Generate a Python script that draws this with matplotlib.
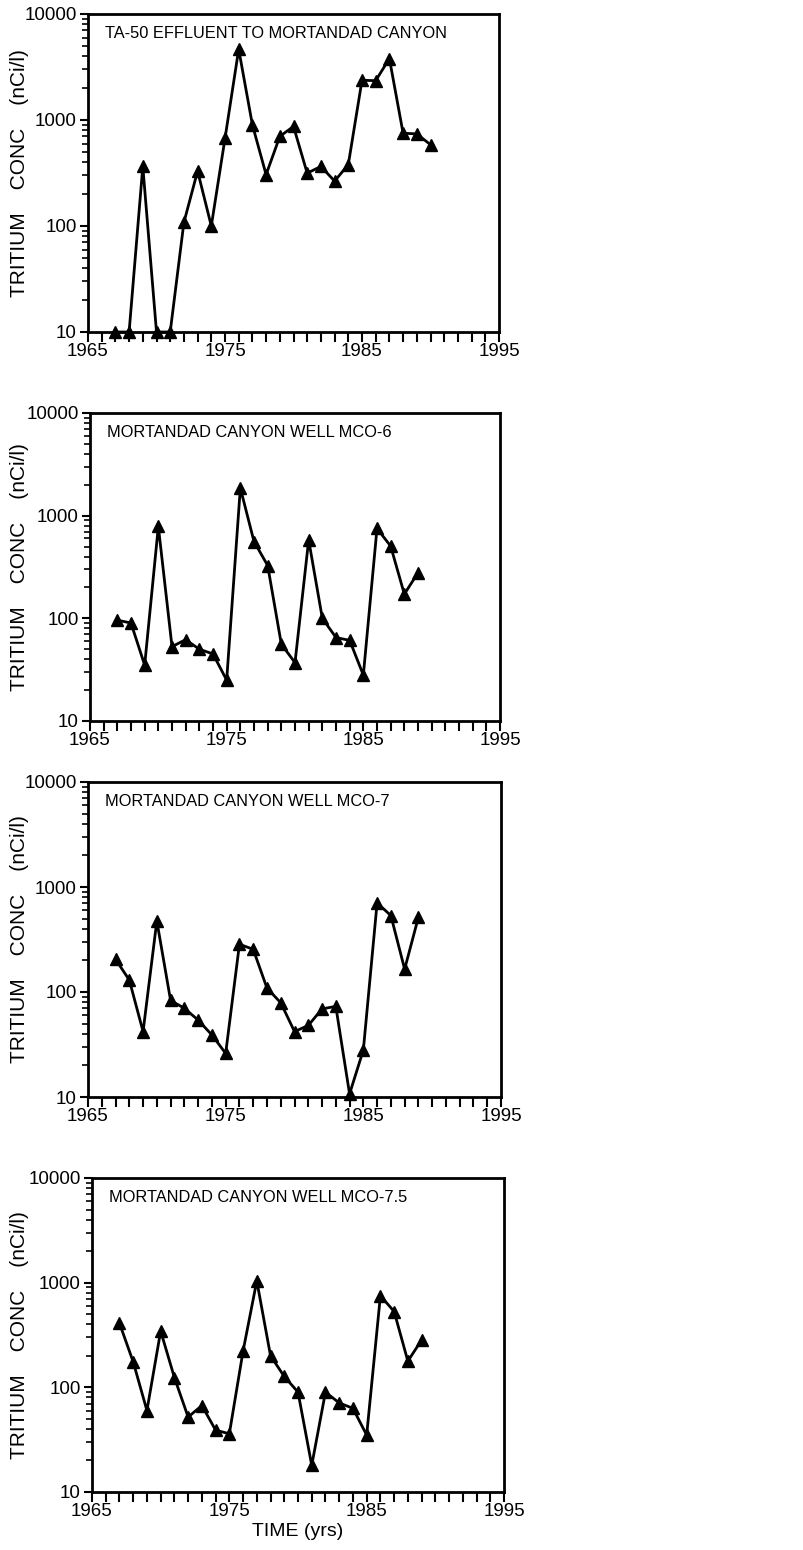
import matplotlib
matplotlib.use("Agg")
import matplotlib.pyplot as plt
from matplotlib.ticker import FixedLocator, LogLocator, NullFormatter, FixedFormatter

plt.rcParams['font.family'] = ['Liberation Sans', 'DejaVu Sans']

titles = ["TA-50 EFFLUENT TO MORTANDAD CANYON",
          "MORTANDAD CANYON WELL MCO-6",
          "MORTANDAD CANYON WELL MCO-7",
          "MORTANDAD CANYON WELL MCO-7.5"]

years_ta50 = list(range(1967, 1991))
conc_ta50 = [10, 10, 365, 10, 10, 108, 330, 100, 670, 4650, 900, 305,
             700, 870, 315, 365, 265, 380, 2370, 2350, 3800, 750, 740, 585]

years_wells = list(range(1967, 1990))
conc_mco6 = [96, 90, 35, 785, 53, 62, 50, 45, 25, 1860, 560, 327,
             56, 37, 580, 100, 65, 61, 28, 750, 505, 172, 278]
conc_mco7 = [205, 130, 42, 475, 83, 70, 54, 39, 26, 285, 255, 109,
             79, 42, 48, 69, 73, 10.7, 28, 705, 535, 165, 515]
conc_mco75 = [410, 175, 60, 345, 124, 52, 67, 39, 36, 222, 1040, 200,
              127, 90, 18, 90, 71, 63, 35, 750, 530, 178, 283]

series = [(years_ta50, conc_ta50), (years_wells, conc_mco6),
          (years_wells, conc_mco7), (years_wells, conc_mco75)]

xticks_major = [1965, 1975, 1985, 1995]
yticks_major = [10, 100, 1000, 10000]
ytick_labels = ["10", "100", "1000", "10000"]

W, H = 804, 1550
# (left, right, top, bottom) in pixels
boxes = [(88, 499, 14, 332), (90, 500, 413, 721), (88, 501, 782, 1097), (92, 504, 1178, 1492)]

fig = plt.figure(figsize=(W / 100, H / 100), dpi=100)

for i, ((xs, ys), title, (l, r, t, b)) in enumerate(zip(series, titles, boxes)):
    ax = fig.add_axes([l / W, 1 - b / H, (r - l) / W, (b - t) / H])
    ax.plot(xs, ys, color='black', lw=2.0, marker='^', ms=8,
            markerfacecolor='black', markeredgecolor='black', clip_on=False)
    ax.set_yscale('log')
    ax.set_xlim(1965, 1995)
    ax.set_ylim(10, 10000)
    ax.xaxis.set_major_locator(FixedLocator(xticks_major))
    ax.xaxis.set_minor_locator(FixedLocator(list(range(1965, 1996))))
    ax.yaxis.set_major_locator(FixedLocator(yticks_major))
    ax.yaxis.set_major_formatter(FixedFormatter(ytick_labels))
    ax.yaxis.set_minor_locator(LogLocator(base=10, subs=range(2, 10)))
    ax.yaxis.set_minor_formatter(NullFormatter())
    ax.tick_params(axis='x', which='major', direction='out', length=7, width=1.5,
                   labelsize=13.5, pad=1)
    ax.tick_params(axis='x', which='minor', direction='out', length=7, width=1.5)
    ax.tick_params(axis='y', which='major', direction='out', length=6, width=1.5,
                   labelsize=13.5, pad=2)
    ax.tick_params(axis='y', which='minor', direction='out', length=4, width=1.2)
    for sp in ax.spines.values():
        sp.set_linewidth(2.0)
    fig.text(20 / W, 1 - ((t + b) / 2) / H, "TRITIUM    CONC    (nCi/l)",
             rotation=90, fontsize=15, ha='center', va='center')
    ax.text(17 / (r - l), 1 - 20 / (b - t), title, transform=ax.transAxes, fontsize=11.8,
            ha='left', va='center')
    if i == 3:
        ax.set_xlabel("TIME (yrs)", fontsize=14, labelpad=2)

fig.savefig("out.png", dpi=100)
